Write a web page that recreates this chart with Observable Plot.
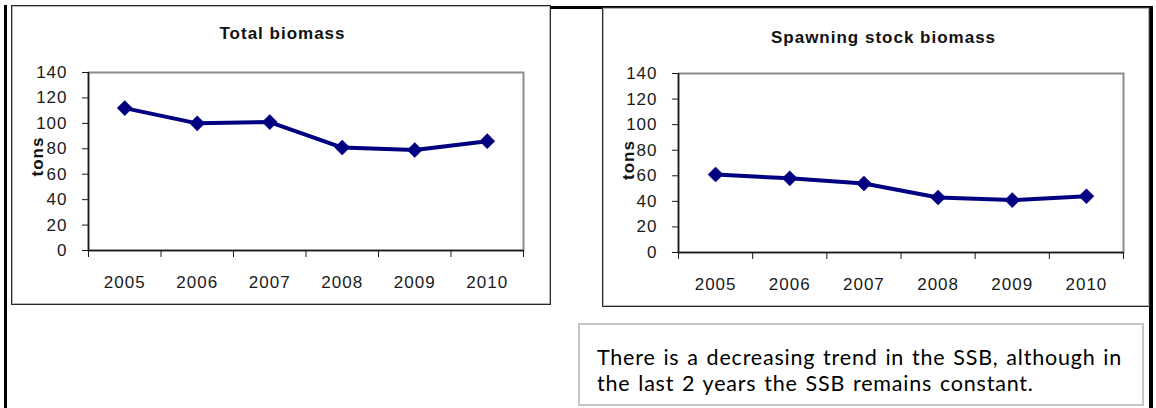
<!DOCTYPE html>
<html>
<head>
<meta charset="utf-8">
<script src="https://cdn.jsdelivr.net/npm/d3@7"></script>
<script src="https://cdn.jsdelivr.net/npm/@observablehq/plot@0.6"></script>
<style>
  html, body { margin: 0; padding: 0; background: #fff; }
  #page { position: relative; width: 1156px; height: 408px; overflow: hidden; background: #fff; }
  .rule { position: absolute; background: #000; }
  .box { position: absolute; box-sizing: border-box; border: 1px solid #2a2a2a; background: #fff;
         box-shadow: inset 0 0 0 1px #b5b5b5; }
  .chart { position: absolute; }
  .chart svg { display: block; }
  #note { position: absolute; left: 578px; top: 323px; width: 566px; height: 83px; box-sizing: border-box;
          border: 2px solid #c6c6c6; padding: 18.7px 0 0 17px; white-space: nowrap;
          font-family: Lato, "Noto Sans", sans-serif; font-size: 21.5px; line-height: 26px;
          letter-spacing: 0.8px; word-spacing: 1.5px; color: #000; }
</style>
</head>
<body>
<div id="page">
  <!-- page table borders -->
  <div class="rule" style="left:4px; top:5px; width:3px; height:403px;"></div>
  <div class="rule" style="left:550px; top:6px; width:603px; height:3px;"></div>
  <div class="rule" style="left:1149px; top:6px; width:4px; height:402px;"></div>
  <!-- chart panels -->
  <div class="box" style="left:11px; top:5px; width:540px; height:300px;"></div>
  <div class="box" style="left:602px; top:7px; width:548px; height:300px;"></div>
  <div class="chart" id="total" style="left:12px; top:6px;"></div>
  <div class="chart" id="spawning" style="left:602px; top:8px;"></div>
  <div id="note">There is a decreasing trend in the SSB, although in<br>the last 2 years the SSB remains constant.</div>
</div>
<script>
// Survey years and biomass estimates (tons)
const years = [2005, 2006, 2007, 2008, 2009, 2010];
const totalBiomass = [112, 100, 101, 81, 79, 86];
const spawningBiomass = [61, 58, 54, 43, 41, 44];
const yTicks = [0, 20, 40, 60, 80, 100, 120, 140];

const navy = "#000080";

function biomassChart({values, title, width, height, margin, titleDx, titleDy, labelDx, labelDy}) {
  const data = years.map((year, i) => ({year, value: values[i]}));
  // category boundaries carry the x tick marks; labels sit at the year centres
  const edges = years.map(y => y - 0.5).concat([years[years.length - 1] + 0.5]);
  return Plot.plot({
    width, height,
    marginLeft: margin.left, marginRight: margin.right,
    marginTop: margin.top, marginBottom: margin.bottom,
    style: {fontFamily: "'Liberation Sans', Arial, sans-serif", fontSize: "17px", color: "#1a1a1a",
            background: "transparent", letterSpacing: "1px", overflow: "visible"},
    x: {domain: [edges[0], edges[edges.length - 1]], axis: null},
    y: {domain: [0, 140], axis: null},
    marks: [
      Plot.frame({stroke: "#8c8c8c", strokeWidth: 2}),
      Plot.ruleX([edges[0]], {stroke: "#1a1a1a", strokeWidth: 1.5}),
      Plot.ruleY([0], {stroke: "#1a1a1a", strokeWidth: 1.5}),
      Plot.axisY({ticks: yTicks, tickSize: 6, tickPadding: 15, label: null, stroke: "#1a1a1a"}),
      Plot.axisX({ticks: edges, tickSize: 7, tickFormat: () => "", label: null, stroke: "#1a1a1a"}),
      Plot.axisX({ticks: years, tickSize: 0, tickPadding: 25, tickFormat: d => String(d), label: null}),
      Plot.line(data, {x: "year", y: "value", stroke: navy, strokeWidth: 4}),
      Plot.dot(data, {x: "year", y: "value", symbol: "diamond2", r: 6.8, fill: navy, stroke: navy, strokeWidth: 0.5}),
      Plot.text([title], {frameAnchor: "top", dx: titleDx, dy: titleDy, lineAnchor: "middle",
                          fontWeight: "bold", fontSize: 17, fill: "#111", letterSpacing: "1.8px"}),
      Plot.text(["tons"], {frameAnchor: "left", dx: labelDx, dy: labelDy, rotate: -90,
                           fontWeight: "bold", fontSize: 17, fill: "#111"})
    ]
  });
}

document.getElementById("total").append(biomassChart({
  values: totalBiomass, title: "Total biomass",
  width: 538, height: 298,
  margin: {left: 76, right: 27, top: 66, bottom: 54},
  titleDx: -23.5, titleDy: -39, labelDx: -51, labelDy: 15
}));

document.getElementById("spawning").append(biomassChart({
  values: spawningBiomass, title: "Spawning stock biomass",
  width: 546, height: 298,
  margin: {left: 76, right: 25, top: 65, bottom: 54},
  titleDx: -17.5, titleDy: -36, labelDx: -50, labelDy: 17
}));
</script>
</body>
</html>
